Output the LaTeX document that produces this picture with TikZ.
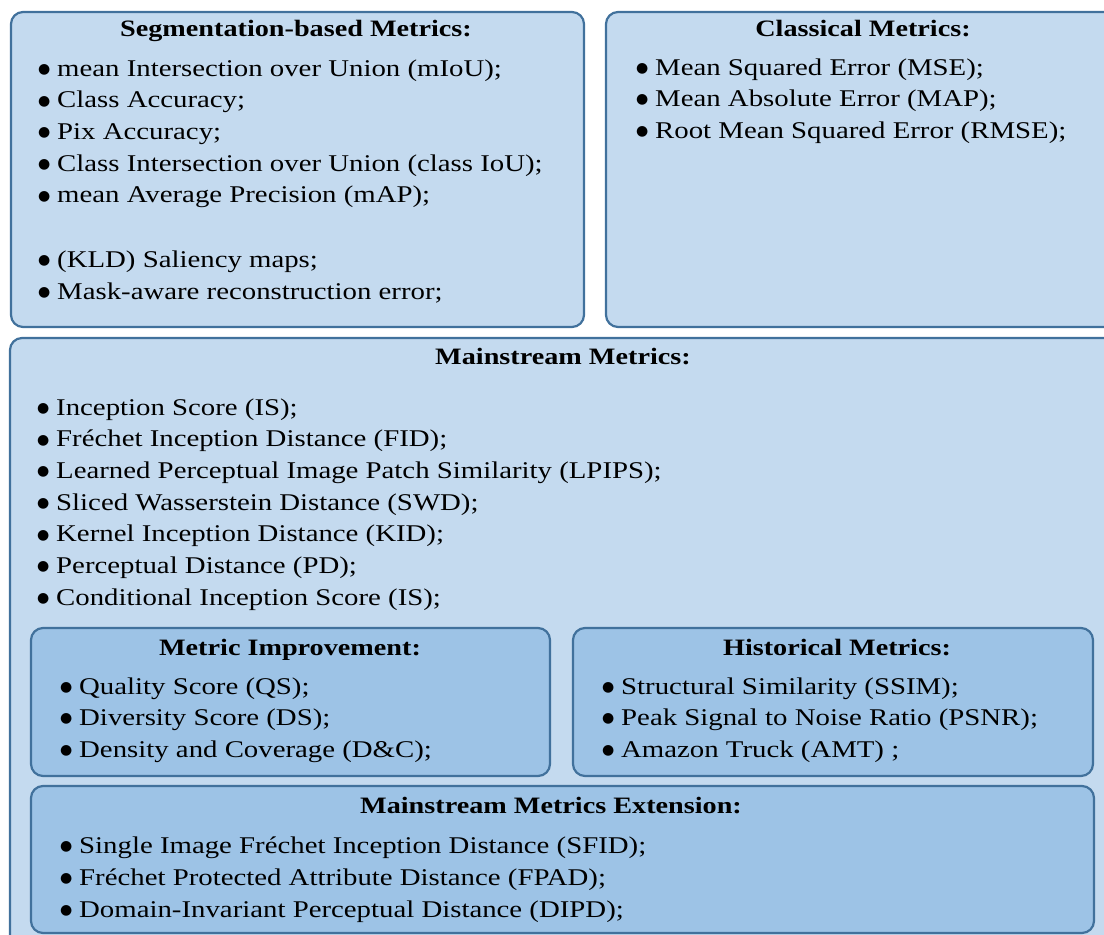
\documentclass[tikz,border=0pt]{standalone}
\usepackage{fontspec}
\setmainfont{Liberation Serif}[FakeStretch=1.2]
\newfontfamily\bulletfont{DejaVu Sans}
\definecolor{paleblue}{HTML}{C4DAEF}
\definecolor{midblue}{HTML}{9DC3E6}
\definecolor{edgeblue}{HTML}{41719C}
% round bullet followed by a fixed gap
\newcommand{\itemdot}{\makebox[19pt][l]{\raisebox{2.6pt}{\bulletfont\fontsize{14}{14}\selectfont ●}}}
\begin{document}
\begin{tikzpicture}[x=1pt,y=-1pt,
  box/.style={draw=edgeblue,line width=2.2pt,rounded corners=12pt},
  outerbox/.style={box,fill=paleblue},
  innerbox/.style={box,fill=midblue},
  item/.style={anchor=base west,inner sep=0pt,font=\fontsize{24}{28}\selectfont},
  heading/.style={anchor=base,inner sep=0pt,font=\fontsize{23.5}{28}\selectfont\bfseries}]
\useasboundingbox (0,0) rectangle (1104,935);
\clip (0,0) rectangle (1104,935);

% top row
\path[outerbox] (11,12) rectangle (584,327);
\path[outerbox] (606,12) rectangle (1120,327);
% main block with its nested groups
\path[outerbox] (10,338) rectangle (1118,955);
\path[innerbox] (31,628) rectangle (550,776);
\path[innerbox] (573,628) rectangle (1093,776);
\path[innerbox] (31,786) rectangle (1094,933);

% Segmentation-based metrics
\node[heading] (seg-title) at (296,36) {Segmentation-based Metrics:};
\foreach \t [count=\i] in {
  {mean Intersection over Union (mIoU);},
  {Class Accuracy;},
  {Pix Accuracy;},
  {Class Intersection over Union (class IoU);},
  {mean Average Precision (mAP);}}
  \node[item] (seg-\i) at (38,{76+31.7*(\i-1)}) {\itemdot\t};
\node[item] (seg-6) at (38,267) {\itemdot(KLD) Saliency maps;};
\node[item] (seg-7) at (38,299) {\itemdot Mask-aware reconstruction error;};

% Classical metrics
\node[heading] (cls-title) at (863,36) {Classical Metrics:};
\foreach \t [count=\i] in {
  {Mean Squared Error (MSE);},
  {Mean Absolute Error (MAP);},
  {Root Mean Squared Error (RMSE);}}
  \node[item] (cls-\i) at (636,{75+31.5*(\i-1)}) {\itemdot\t};

% Mainstream metrics
\node[heading] (main-title) at (563,364) {Mainstream Metrics:};
\foreach \t [count=\i] in {
  {Inception Score (IS);},
  {Fréchet Inception Distance (FID);},
  {Learned Perceptual Image Patch Similarity (LPIPS);},
  {Sliced Wasserstein Distance (SWD);},
  {Kernel Inception Distance (KID);},
  {Perceptual Distance (PD);},
  {Conditional Inception Score (IS);}}
  \node[item] (main-\i) at (37,{415+31.67*(\i-1)}) {\itemdot\t};

% Metric improvement
\node[heading] (imp-title) at (290,655) {Metric Improvement:};
\foreach \t [count=\i] in {
  {Quality Score (QS);},
  {Diversity Score (DS);},
  {Density and Coverage (D\&C);}}
  \node[item] (imp-\i) at (60,{694+31.5*(\i-1)}) {\itemdot\t};

% Historical metrics
\node[heading] (hist-title) at (837,655) {Historical Metrics:};
\foreach \t [count=\i] in {
  {Structural Similarity (SSIM);},
  {Peak Signal to Noise Ratio (PSNR);},
  {Amazon Truck (AMT) ;}}
  \node[item] (hist-\i) at (602,{694+31.5*(\i-1)}) {\itemdot\t};

% Mainstream metrics extension
\node[heading] (ext-title) at (551,813) {Mainstream Metrics Extension:};
\foreach \t [count=\i] in {
  {Single Image Fréchet Inception Distance (SFID);},
  {Fréchet Protected Attribute Distance (FPAD);},
  {Domain-Invariant Perceptual Distance (DIPD);}}
  \node[item] (ext-\i) at (60,{853+32*(\i-1)}) {\itemdot\t};
\end{tikzpicture}
\end{document}
